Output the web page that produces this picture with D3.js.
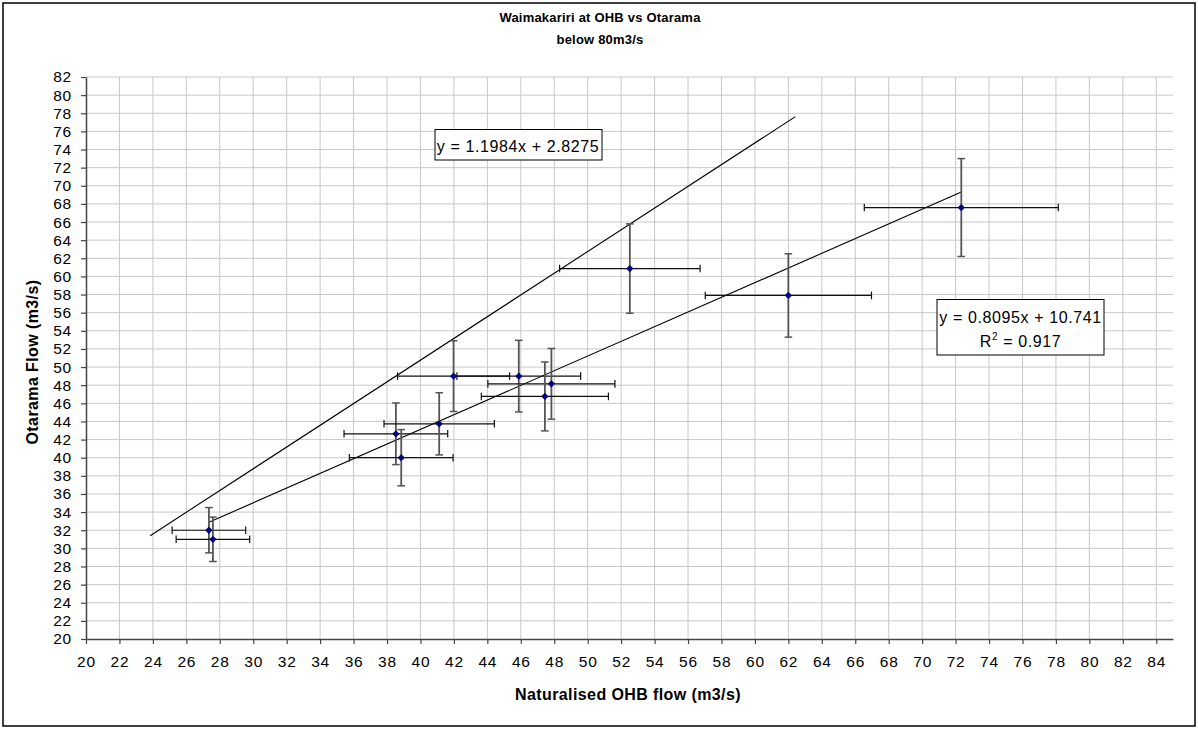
<!DOCTYPE html>
<html>
<head>
<meta charset="utf-8">
<script src="https://cdn.jsdelivr.net/npm/d3@7"></script>
<style>
  body { margin: 0; background: #fff; }
  svg { display: block; font-family: "Liberation Sans", Arial, sans-serif; }
  .tick text { font-size: 15.5px; letter-spacing: 0.8px; fill: #000; }
</style>
</head>
<body>
<div id="chart"></div>
<script>
// values
const ohbFlow = [27.35, 27.59, 38.53, 38.85, 41.12, 41.98, 45.88, 47.83, 47.44, 52.52, 62.0, 72.34];
const otaramaFlow = [32.0, 31.0, 42.64, 40.0, 43.74, 49.0, 49.0, 48.15, 46.76, 60.87, 57.9, 67.6];
const ohbErr = [2.2, 2.2, 3.1, 3.1, 3.3, 3.35, 3.7, 3.8, 3.8, 4.2, 4.97, 5.8];
const otaramaErr = [2.5, 2.45, 3.4, 3.1, 3.43, 3.9, 3.95, 3.9, 3.8, 4.93, 4.6, 5.4];

const trendSteep = { slope: 1.1984, intercept: 2.8275, from: 23.84, to: 62.42 };
const trendFit = { slope: 0.8095, intercept: 10.741, from: d3.min(ohbFlow), to: d3.max(ohbFlow) };

const xTicks = d3.range(20, 85, 2);
const yTicks = d3.range(20, 83, 2);

const width = 1198;
const height = 729;

const svg = d3.select("#chart").append("svg")
    .attr("width", width)
    .attr("height", height);

// chart border
svg.append("rect")
    .attr("x", 3).attr("y", 3)
    .attr("width", 1192).attr("height", 723)
    .attr("fill", "#fff")
    .attr("stroke", "#000")
    .attr("stroke-width", 1.5);

const x = d3.scaleLinear().domain([20, 85]).range([86, 1173]);
const y = d3.scaleLinear().domain([20, 82]).range([639, 77]);

// grid
svg.append("g").selectAll("line")
    .data(xTicks.slice(1))
    .enter().append("line")
    .attr("x1", d => x(d)).attr("x2", d => x(d))
    .attr("y1", y(82)).attr("y2", y(20))
    .attr("stroke", "#c8c8c8");

svg.append("g").selectAll("line")
    .data(yTicks.slice(1))
    .enter().append("line")
    .attr("x1", x(20)).attr("x2", x(85))
    .attr("y1", d => y(d)).attr("y2", d => y(d))
    .attr("stroke", "#c8c8c8");

// axes
const xAxis = d3.axisBottom(x).tickValues(xTicks).tickSize(5).tickPadding(12).tickSizeOuter(0);
const yAxis = d3.axisLeft(y).tickValues(yTicks).tickSize(5).tickPadding(9).tickSizeOuter(0);

const gx = svg.append("g")
    .attr("transform", "translate(0," + y(20) + ")")
    .call(xAxis);
const gy = svg.append("g")
    .attr("transform", "translate(" + x(20) + ",0)")
    .call(yAxis);
[gx, gy].forEach(g => {
    g.select(".domain").attr("stroke", "#444").attr("stroke-width", 1.5);
    g.selectAll(".tick line").attr("stroke", "#444").attr("stroke-width", 1.2);
    g.selectAll(".tick text").attr("font-family", null).attr("font-size", null);
});

// trend lines
const line = d3.line().x(d => x(d[0])).y(d => y(d[1]));
[trendSteep, trendFit].forEach(t => {
    svg.append("path")
        .attr("d", line([[t.from, t.slope * t.from + t.intercept], [t.to, t.slope * t.to + t.intercept]]))
        .attr("fill", "none")
        .attr("stroke", "#000")
        .attr("stroke-width", 1.1);
});

// error bars
const pts = ohbFlow.map((v, i) => ({ x: v, y: otaramaFlow[i], ex: ohbErr[i], ey: otaramaErr[i] }));
const cap = 3.8;
const bars = svg.append("g");
pts.forEach(p => {
    const g = bars.append("g");
    // vertical
    g.append("line")
        .attr("x1", x(p.x)).attr("x2", x(p.x))
        .attr("y1", y(p.y - p.ey)).attr("y2", y(p.y + p.ey))
        .attr("stroke", "#555").attr("stroke-width", 1.8);
    [p.y - p.ey, p.y + p.ey].forEach(v => {
        g.append("line")
            .attr("x1", x(p.x) - cap).attr("x2", x(p.x) + cap)
            .attr("y1", y(v)).attr("y2", y(v))
            .attr("stroke", "#555").attr("stroke-width", 1.5);
    });
    // horizontal
    g.append("line")
        .attr("x1", x(p.x - p.ex)).attr("x2", x(p.x + p.ex))
        .attr("y1", y(p.y)).attr("y2", y(p.y))
        .attr("stroke", "#111").attr("stroke-width", 1.2);
    [p.x - p.ex, p.x + p.ex].forEach(v => {
        g.append("line")
            .attr("x1", x(v)).attr("x2", x(v))
            .attr("y1", y(p.y) - cap).attr("y2", y(p.y) + cap)
            .attr("stroke", "#111").attr("stroke-width", 1.2);
    });
});

// markers
svg.append("g").selectAll("path")
    .data(pts)
    .enter().append("path")
    .attr("d", d3.symbol().type(d3.symbolDiamond2).size(34))
    .attr("transform", d => "translate(" + x(d.x) + "," + y(d.y) + ")")
    .attr("fill", "#000080");

// equation labels
const box1 = svg.append("g");
box1.append("rect")
    .attr("x", 435).attr("y", 129.5).attr("width", 167).attr("height", 30.5)
    .attr("fill", "#fff").attr("stroke", "#000").attr("stroke-width", 1);
box1.append("text")
    .attr("x", 518).attr("y", 151.5)
    .attr("text-anchor", "middle")
    .style("font-size", "16px").style("letter-spacing", "0.6px")
    .text("y = 1.1984x + 2.8275");

const box2 = svg.append("g");
box2.append("rect")
    .attr("x", 937).attr("y", 299.5).attr("width", 167).attr("height", 55.5)
    .attr("fill", "#fff").attr("stroke", "#000").attr("stroke-width", 1);
box2.append("text")
    .attr("x", 1020.5).attr("y", 323)
    .attr("text-anchor", "middle")
    .style("font-size", "16px").style("letter-spacing", "0.6px")
    .text("y = 0.8095x + 10.741");
const r2 = box2.append("text")
    .attr("x", 1020.5).attr("y", 347)
    .attr("text-anchor", "middle")
    .style("font-size", "16px").style("letter-spacing", "0.6px");
r2.append("tspan").text("R");
r2.append("tspan").attr("dy", -7).style("font-size", "10px").text("2");
r2.append("tspan").attr("dy", 7).text(" = 0.917");

// titles
const title = svg.append("text")
    .attr("text-anchor", "middle")
    .style("font-size", "13px").style("font-weight", "bold").style("letter-spacing", "0.2px");
title.append("tspan").attr("x", 600).attr("y", 22).text("Waimakariri at OHB vs Otarama");
title.append("tspan").attr("x", 600).attr("y", 44).text("below 80m3/s");

svg.append("text")
    .attr("x", 628).attr("y", 700)
    .attr("text-anchor", "middle")
    .style("font-size", "16px").style("font-weight", "bold").style("letter-spacing", "0.4px")
    .text("Naturalised OHB flow (m3/s)");

svg.append("text")
    .attr("transform", "translate(38,362) rotate(-90)")
    .attr("text-anchor", "middle")
    .style("font-size", "16px").style("font-weight", "bold").style("letter-spacing", "0.4px")
    .text("Otarama Flow (m3/s)");
</script>
</body>
</html>
